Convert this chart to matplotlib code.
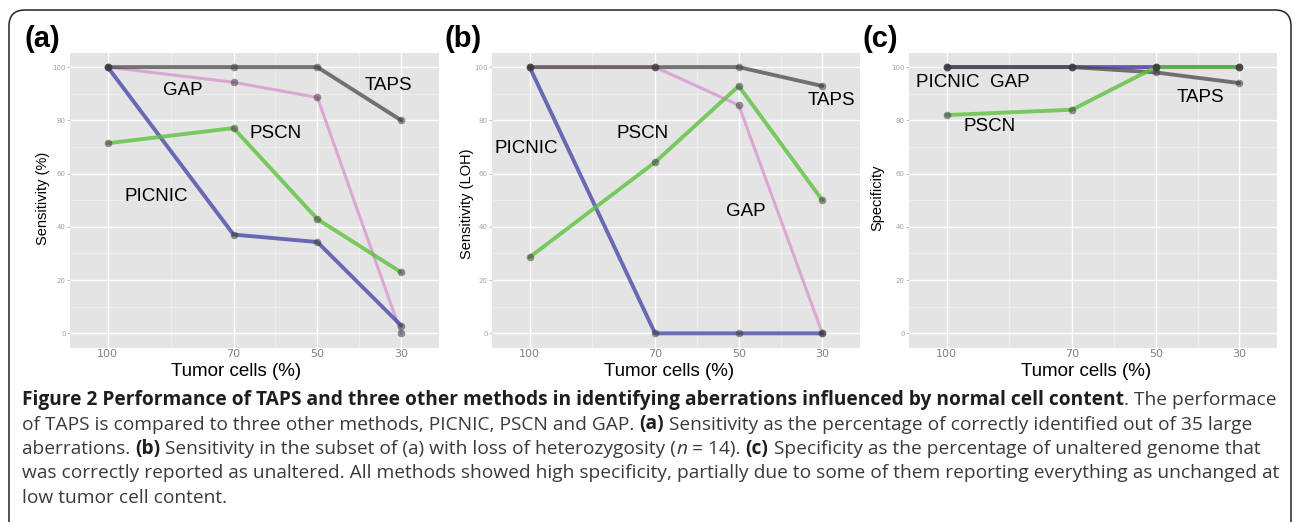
import matplotlib
matplotlib.use("Agg")
import matplotlib.pyplot as plt
from matplotlib.patches import FancyBboxPatch

# ── Data ──────────────────────────────────────────────────────────────
tumor_cells = [100, 70, 50, 30]
x_ticks = [100, 70, 50, 30]
x_minor = [85, 60, 40]
y_ticks = [0, 20, 40, 60, 80, 100]
y_minor = [10, 30, 50, 70, 90]

# panel (a): sensitivity, 35 large aberrations
a_taps = [100, 100, 100, 80]
a_gap = [100, 94.3, 88.6, 0]
a_pscn = [71.4, 77.1, 42.9, 22.9]
a_picnic = [100, 37.1, 34.3, 2.9]

# panel (b): sensitivity LOH, n = 14
b_taps = [100, 100, 100, 92.9]
b_gap = [100, 100, 85.7, 0]
b_pscn = [28.6, 64.3, 92.9, 50]
b_picnic = [100, 0, 0, 0]

# panel (c): specificity
c_taps = [100, 100, 98, 94]
c_gap = [100, 100, 100, 100]
c_pscn = [82, 84, 100, 100]
c_picnic = [100, 100, 100, 100]

panel_letters = ["(a)", "(b)", "(c)"]
y_labels = ["Sensitivity (%)", "Sensitivity (LOH)", "Specificity"]
x_label = "Tumor cells (%)"

# method labels placed inside each panel (x, y in data units)
a_labels = [("GAP", 82, 91.4), ("TAPS", 33, 93.2), ("PSCN", 60, 75.2), ("PICNIC", 88.5, 51.5)]
b_labels = [("PICNIC", 100.7, 69.5), ("PSCN", 73, 75), ("TAPS", 27.9, 87.3), ("GAP", 48.2, 45.9)]
c_labels = [("PICNIC  GAP", 93.7, 94.1), ("PSCN", 89.7, 77.6), ("TAPS", 39.3, 88.6)]

caption_lines = [
    [("b", "Figure 2 Performance of TAPS and three other methods in identifying aberrations influenced by normal cell content"),
     ("n", ". The performace")],
    [("n", "of TAPS is compared to three other methods, PICNIC, PSCN and GAP. "), ("b", "(a)"),
     ("n", " Sensitivity as the percentage of correctly identified out of 35 large")],
    [("n", "aberrations. "), ("b", "(b)"), ("n", " Sensitivity in the subset of (a) with loss of heterozygosity ("),
     ("i", "n"), ("n", " = 14). "), ("b", "(c)"), ("n", " Specificity as the percentage of unaltered genome that")],
    [("n", "was correctly reported as unaltered. All methods showed high specificity, partially due to some of them reporting everything as unchanged at")],
    [("n", "low tumor cell content.")],
]

COL = {"TAPS": "#4a4a4a", "GAP": "#d99bd2", "PSCN": "#5cc23c", "PICNIC": "#3e3ea4"}

W, H = 1293, 522
fig = plt.figure(figsize=(W / 100, H / 100), dpi=100)
fig.patch.set_facecolor("white")


def fx(px):
    return px / W


def fy(py):
    return 1 - py / H


# ── Rounded border (open at the bottom) ───────────────────────────────
# inches: left edge 9 px, top edge 10 px from the top, runs off the bottom
border = FancyBboxPatch((0.09, -0.5), 12.82, 5.62,
                        boxstyle="round,pad=0,rounding_size=0.16",
                        transform=fig.dpi_scale_trans, fill=False,
                        edgecolor="#222222", linewidth=1.1)
fig.add_artist(border)

panels = [
    (70, 439, (a_taps, a_gap, a_pscn, a_picnic), a_labels, 25, 43, 198, 236),
    (492, 860, (b_taps, b_gap, b_pscn, b_picnic), b_labels, 445, 467, 204, 669),
    (909, 1277, (c_taps, c_gap, c_pscn, c_picnic), c_labels, 862, 877, 198, 1086),
]
top, bottom = 53, 348

for i, (left, right, series, labels, letter_x, ylab_x, ylab_y, xlab_x) in enumerate(panels):
    ax = fig.add_axes([fx(left), fy(bottom), (right - left) / W, (bottom - top) / H])
    ax.set_facecolor("#e4e4e4")
    for s in ax.spines.values():
        s.set_visible(False)
    ax.set_xlim(109, 21)
    ax.set_ylim(-5.5, 105.3)

    for v in x_minor:
        ax.axvline(v, color="#efefef", lw=0.6, zorder=0)
    for v in y_minor:
        ax.axhline(v, color="#efefef", lw=0.6, zorder=0)
    for v in x_ticks:
        ax.axvline(v, color="white", lw=1.0, zorder=0)
    for v in y_ticks:
        ax.axhline(v, color="white", lw=1.0, zorder=0)

    taps, gap, pscn, picnic = series
    ax.plot(tumor_cells, gap, color=COL["GAP"], lw=2.2, alpha=0.85, solid_capstyle="round", zorder=2)
    ax.plot(tumor_cells, picnic, color=COL["PICNIC"], lw=2.8, alpha=0.75, solid_capstyle="round", zorder=3)
    ax.plot(tumor_cells, taps, color=COL["TAPS"], lw=2.8, alpha=0.75, solid_capstyle="round", zorder=4)
    ax.plot(tumor_cells, pscn, color=COL["PSCN"], lw=2.8, alpha=0.8, solid_capstyle="round", zorder=5)
    for vals in (gap, picnic, taps, pscn):
        ax.scatter(tumor_cells, vals, s=30, color="#3c3c3c", alpha=0.55, linewidths=0, zorder=6)

    for txt, xv, yv in labels:
        ax.text(xv, yv, txt, ha="center", va="center", fontsize=13.5,
                family="Liberation Sans", color="black", zorder=7)

    ax.set_xticks(x_ticks)
    ax.set_xticklabels([str(v) for v in x_ticks])
    ax.set_yticks(y_ticks)
    ax.set_yticklabels([str(v) for v in y_ticks])
    ax.tick_params(axis="x", length=0, pad=0.5, labelsize=8, labelcolor="#808080")
    ax.tick_params(axis="y", length=2, width=0.5, color="#aaaaaa", pad=1,
                   labelsize=5, labelcolor="#a0a0a0")

    fig.text(fx(letter_x), fy(39), panel_letters[i], ha="left", va="center",
             fontsize=21, fontweight="bold", family="Liberation Sans")
    fig.text(fx(ylab_x), fy(ylab_y), y_labels[i], rotation=90, ha="center", va="center",
             fontsize=10.5, family="Liberation Sans")
    fig.text(fx(xlab_x), fy(371), x_label, ha="center", va="center",
             fontsize=13.5, family="Liberation Sans")

# ── Caption with mixed bold / normal / italic runs ────────────────────
renderer = fig.canvas.get_renderer()
cap_family = ["Open Sans", "DejaVu Sans"]
styles = {"n": dict(fontweight="normal", fontstyle="normal", color="#3a3a3a"),
          "b": dict(fontweight="bold", fontstyle="normal", color="#1e1e1e"),
          "i": dict(fontweight="normal", fontstyle="italic", color="#3a3a3a")}


def run_width(s, kind, size):
    t = fig.text(0, 0, "I" + s + "I", fontsize=size, family=cap_family, **styles[kind])
    t2 = fig.text(0, 0, "II", fontsize=size, family=cap_family, **styles[kind])
    w = t.get_window_extent(renderer).width - t2.get_window_extent(renderer).width
    t.remove()
    t2.remove()
    return w


# fit the first caption line to the width used in the reference
base = 10.0
w0 = sum(run_width(s, k, base) for k, s in caption_lines[0])
cap_size = base * (1277 - 22) / w0

line_y = [400, 424.5, 449, 473.5, 498]
for line, yy in zip(caption_lines, line_y):
    xx = 22.0
    for kind, s in line:
        fig.text(fx(xx), fy(yy), s, fontsize=cap_size, family=cap_family,
                 ha="left", va="center", **styles[kind])
        xx += run_width(s, kind, cap_size)

plt.savefig("out.png", dpi=100)
